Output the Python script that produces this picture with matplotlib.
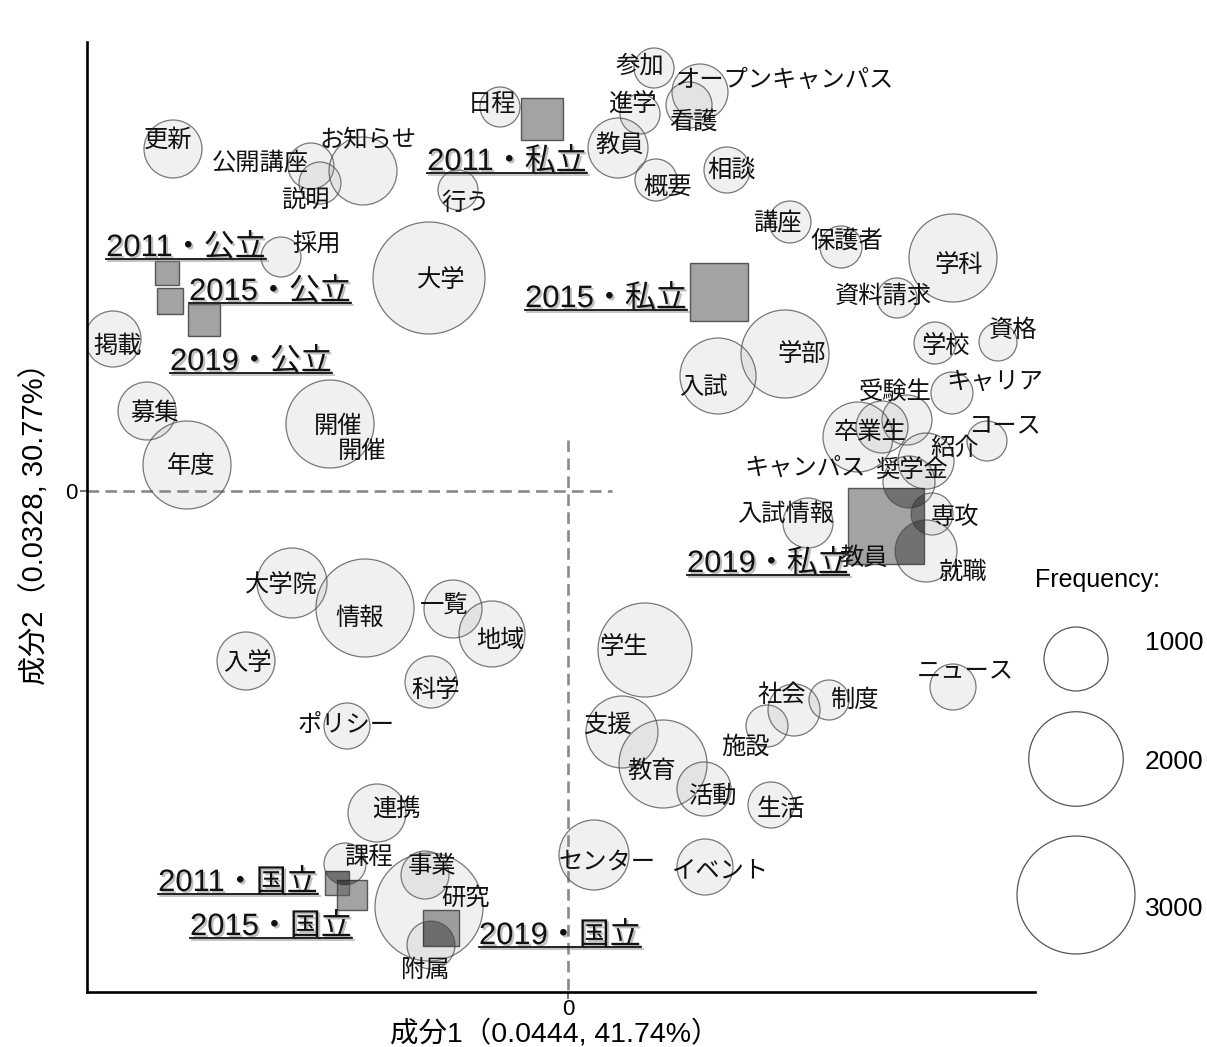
import matplotlib
matplotlib.use("Agg")
import numpy as np
import matplotlib.pyplot as plt
from matplotlib.patches import Ellipse, Rectangle
from matplotlib.lines import Line2D
import matplotlib.patheffects as pe

plt.rcParams['font.family'] = ['Liberation Sans', 'Noto Sans CJK JP', 'DejaVu Sans']

# ---- row points (words): scores on dim 1 / dim 2 and frequency
words = ['参加', 'オープンキャンパス', '看護', '進学', '教員', '概要', '相談', '日程', '行う',
         '更新', '公開講座', '説明', 'お知らせ', '採用', '大学', '掲載', '募集', '年度', '開催',
         '講座', '保護者', '学科', '資料請求', '学校', '資格', '学部', '入試', 'キャリア',
         '受験生', '卒業生', 'キャンパス', '紹介', 'コース', '奨学金', '入試情報', '専攻', '就職',
         '大学院', '情報', '一覧', '地域', '入学', '科学', 'ポリシー', '連携', '課程', '事業',
         '研究', '附属', '学生', '支援', '教育', '活動', '施設', '社会', '制度', 'ニュース',
         '生活', 'センター', 'イベント']
dim1 = [0.86, 1.32, 1.21, 0.72, 0.50, 0.88, 1.59, -0.68, -1.10,
        -3.95, -2.57, -2.48, -2.05, -2.87, -1.39, -4.55, -4.21, -3.81, -2.38,
        2.22, 2.73, 3.85, 3.29, 3.67, 4.30, 2.17, 1.50, 3.84,
        3.39, 3.14, 2.90, 3.58, 4.19, 3.41, 2.40, 3.64, 3.58,
        -2.76, -2.03, -1.15, -0.76, -3.22, -1.37, -2.21, -1.91, -2.23, -1.43,
        -1.39, -1.37, 0.77, 0.54, 0.95, 1.36, 1.99, 2.26, 2.61, 3.85,
        2.03, 0.26, 1.37]
dim2 = [4.23, 3.99, 3.86, 3.77, 3.43, 3.11, 3.21, 3.84, 3.01,
        3.42, 3.25, 3.08, 3.20, 2.34, 2.13, 1.52, 0.80, 0.26, 0.67,
        2.69, 2.44, 2.33, 1.93, 1.48, 1.49, 1.37, 1.15, 0.98,
        0.71, 0.64, 0.54, 0.30, 0.50, 0.09, -0.32, -0.23, -0.60,
        -0.92, -1.17, -1.18, -1.43, -1.70, -1.91, -2.35, -3.22, -3.73, -3.84,
        -4.16, -4.54, -1.59, -2.41, -2.73, -2.98, -2.35, -2.19, -2.09, -1.96,
        -3.14, -3.64, -3.76]
freq = [456, 796, 573, 456, 896, 493, 573, 456, 456,
        845, 573, 493, 1113, 456, 2728, 796, 845, 1759, 1759,
        493, 493, 1759, 456, 493, 420, 1759, 1354, 493,
        658, 702, 1171, 796, 456, 702, 658, 493, 948,
        1171, 2137, 845, 1057, 845, 702, 573, 845, 493, 614,
        2552, 614, 1981, 1230, 1759, 749, 493, 702, 456, 573,
        573, 1171, 796]

# ---- column points (year x type of university)
groups = ['2011・公立', '2015・公立', '2019・公立', '2011・私立', '2015・私立', '2019・私立',
          '2011・国立', '2015・国立', '2019・国立']
g_dim1 = [-4.01, -3.98, -3.64, -0.26, 1.51, 3.18, -2.31, -2.16, -1.27]
g_dim2 = [2.18, 1.90, 1.71, 3.72, 1.99, -0.35, -3.92, -4.04, -4.37]
g_freq = [198, 236, 321, 475, 870, 1385, 210, 291, 386]

legend_freq = [1000, 2000, 3000]

# label placement (pixel offsets from the point, like a repel layout)
word_offsets = [(-14, -2), (85, -12), (4, 17), (-8, -10), (2, -3), (12, 7), (5, 0), (-8, -3), (8, 13),
                (-5, -9), (-51, -4), (-15, 17), (5, -31), (36, -13), (12, 2), (5, 7), (7, 2), (4, 1), (8, 2),
                (-13, 0), (6, -6), (6, 7), (-14, -2), (11, 3), (15, -12), (17, 0), (-15, 11), (43, -11),
                (-12, -28), (-12, 5), (-53, 31), (29, -13), (18, -16), (2, -12), (-22, -9), (23, 3), (36, 21),
                (-11, 2), (-5, 10), (-9, -4), (8, 6), (1, 2), (5, 8), (-1, -1), (19, -3), (23, -7), (7, -9),
                (36, -9), (-6, 25), (-21, -3), (-15, -7), (-11, 7), (9, 7), (-22, 21), (-12, -15), (26, 0), (12, -17),
                (10, 4), (13, 7), (15, 3)]
group_offsets = [(19, -17), (100, -1), (47, 50), (-35, 51), (-113, 15), (-118, 46),
                 (-99, 8), (-81, 40), (119, 16)]

W, H, DPI = 1207, 1047, 100


def radius_px(f):
    # bubble radius (pixels) from frequency, scale taken from the legend
    return 1.166 * np.sqrt(f) - 4.9


fig = plt.figure(figsize=(W / DPI, H / DPI), dpi=DPI)
ax = fig.add_axes([87 / W, 1 - 992 / H, (1035 - 87) / W, (992 - 42) / H])
ax.set_xlim(-4.81, 4.67)
ax.set_ylim(-5.01, 4.49)

ppx = ax.transData.transform((1, 0))[0] - ax.transData.transform((0, 0))[0]
ppy = ax.transData.transform((0, 1))[1] - ax.transData.transform((0, 0))[1]

# bubbles
for x, y, f in zip(dim1, dim2, freq):
    r = radius_px(f)
    ax.add_patch(Ellipse((x, y), 2 * r / ppx, 2 * r / ppy,
                         facecolor=(0.55, 0.55, 0.55, 0.13),
                         edgecolor=(0.3, 0.3, 0.3, 0.75), lw=0.9, zorder=2))

# squares
squares = []
for x, y, f in zip(g_dim1, g_dim2, g_freq):
    h = radius_px(f)
    rect = Rectangle((x - h / ppx, y - h / ppy), 2 * h / ppx, 2 * h / ppy,
                     facecolor=(0.38, 0.38, 0.38, 0.58),
                     edgecolor=(0.25, 0.25, 0.25, 0.85), lw=1.0, zorder=3)
    ax.add_patch(rect)
    squares.append((x, y, h, rect))

# darker where a bubble cuts into a square
for gx, gy, h, rect in squares:
    for x, y, f in zip(dim1, dim2, freq):
        r = radius_px(f)
        dx, dy = abs(x - gx) * ppx, abs(y - gy) * ppy
        near = max(dx - h, 0) ** 2 + max(dy - h, 0) ** 2
        far = (dx + h) ** 2 + (dy + h) ** 2
        if near >= r ** 2 or far <= r ** 2:
            continue
        e = Ellipse((x, y), 2 * r / ppx, 2 * r / ppy,
                    facecolor=(0.12, 0.12, 0.12, 0.35), edgecolor='none', zorder=3.5)
        ax.add_patch(e)
        e.set_clip_path(rect)

# origin lines
ax.plot([-4.81, 0.44], [0, 0], color='#8a8a8a', lw=1.9, ls=(0, (4.4, 2.4)), zorder=1)
ax.plot([0, 0], [0.51, -5.01], color='#8a8a8a', lw=1.9, ls=(0, (4.4, 2.4)), zorder=1)

# word labels
WFS = 17.5
for name, x, y, (dx, dy) in zip(words, dim1, dim2, word_offsets):
    ax.annotate(name, (x, y), xytext=(dx, -dy), textcoords='offset pixels',
                ha='center', va='center', fontsize=WFS, color='#111111',
                family=['Noto Sans CJK JP'], zorder=5)
# duplicated labels from the original layout
ax.annotate('開催', (dim1[18], dim2[18]), xytext=(32, -27), textcoords='offset pixels',
            ha='center', va='center', fontsize=WFS, color='#111111',
            family=['Noto Sans CJK JP'], zorder=5)
ax.annotate('教員', (g_dim1[5], g_dim2[5]), xytext=(-22, -32), textcoords='offset pixels',
            ha='center', va='center', fontsize=WFS, color='#111111',
            family=['Noto Sans CJK JP'], zorder=5)

shadow = [pe.withSimplePatchShadow(offset=(1.5, -1.5), shadow_rgbFace='0.5', alpha=0.5)]
gtexts = []
for name, x, y, (dx, dy) in zip(groups, g_dim1, g_dim2, group_offsets):
    t = ax.annotate(name, (x, y), xytext=(dx, -dy), textcoords='offset pixels',
                    ha='center', va='baseline', fontsize=22.3, color='#111111',
                    zorder=6, path_effects=shadow)
    gtexts.append((t, x, y, dy))

# axes styling
for s in ['top', 'right']:
    ax.spines[s].set_visible(False)
for s in ['left', 'bottom']:
    ax.spines[s].set_linewidth(1.9)
ax.set_xticks([0])
ax.set_yticks([0])
ax.tick_params(length=5, width=1.5, labelsize=16, pad=2, color='#777777')
ax.tick_params(axis='x', pad=0)

fig.text(555 / W, 1 - 1034 / H, '成分1（0.0444, 41.74%）', ha='center', va='center', fontsize=20.5)
fig.text(35 / W, 1 - 517 / H, '成分2（0.0328, 30.77%）', ha='center', va='center',
         fontsize=21, rotation=90)

# size legend
lax = fig.add_axes([0, 0, 1, 1])
lax.set_xlim(0, W)
lax.set_ylim(H, 0)
lax.axis('off')
lax.patch.set_alpha(0)
lax.text(1035, 580, 'Frequency:', ha='left', va='center', fontsize=18)
for f, cy, ty in zip(legend_freq, [659, 759, 895], [643, 762, 909]):
    r = radius_px(f)
    lax.add_patch(Ellipse((1076, cy), 2 * r, 2 * r, facecolor='white',
                          edgecolor='#555555', lw=0.9))
    lax.text(1145, ty, str(f), ha='left', va='center', fontsize=19)

# underline the group labels
fig.canvas.draw()
renderer = fig.canvas.get_renderer()
inv = fig.transFigure.inverted()
for t, x, y, dy in gtexts:
    bb = t.get_window_extent(renderer)
    base = ax.transData.transform((x, y))[1] - dy
    y_ul = base - 3
    (x0, yy), (x1, _) = inv.transform([(bb.x0, y_ul), (bb.x1, y_ul)])
    fig.add_artist(Line2D([x0, x1], [yy, yy], color='#111111', lw=1.3,
                          path_effects=[pe.SimpleLineShadow(offset=(1.2, -1.2), shadow_color='0.5', alpha=0.5),
                                        pe.Normal()]))

fig.savefig('out.png', dpi=DPI)
